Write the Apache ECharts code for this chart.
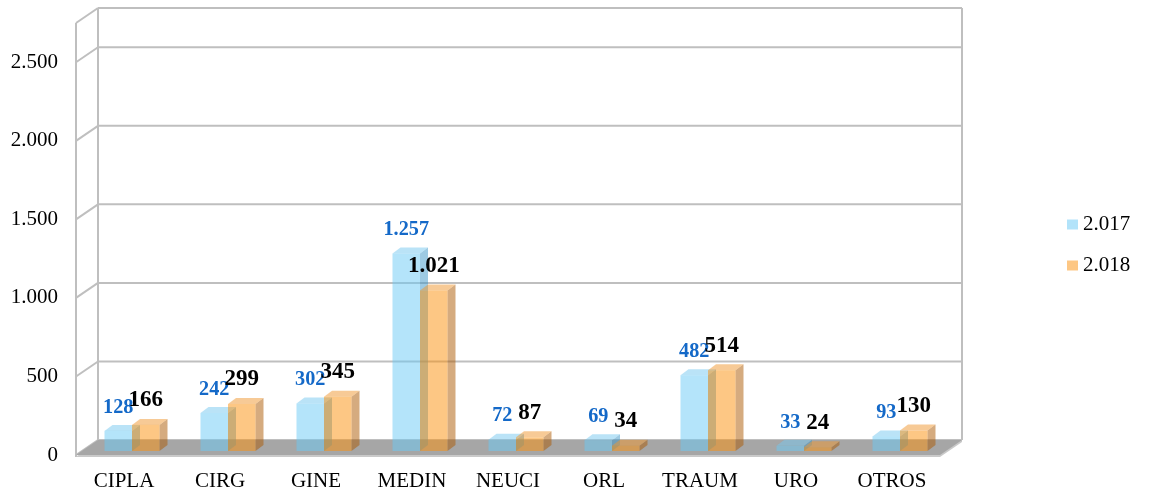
<!DOCTYPE html>
<html>
<head>
<meta charset="utf-8">
<script src="https://cdn.jsdelivr.net/npm/echarts@6/dist/echarts.min.js"></script>
<style>
html,body{margin:0;padding:0;background:#fff;}
#chart{width:1149px;height:493px;}
</style>
</head>
<body>
<div id="chart"></div>
<script>
const categories = ['CIPLA','CIRG','GINE','MEDIN','NEUCI','ORL','TRAUM','URO','OTROS'];
const values2017 = [128, 242, 302, 1257, 72, 69, 482, 33, 93];
const values2018 = [166, 299, 345, 1021, 87, 34, 514, 24, 130];
const seriesNames = ['2.017', '2.018'];
const yTicks = [0, 500, 1000, 1500, 2000, 2500];
const yMax = 2750;

const FONT = '"Liberation Serif", "Times New Roman", serif';
const WX = 22, WY = -15;      // wall depth
const FX = 8, FY = -4;        // bar front offset
const DX = 8, DY = -6;        // bar depth
const BAR_FRAC = 27.5 / 96;

const fmt = v => String(v).replace(/\B(?=(\d{3})+(?!\d))/g, '.');

const barColors = [
  {front: 'rgba(105,201,245,0.5)', top: 'rgba(118,200,240,0.5)', side: 'rgba(60,150,200,0.5)'},
  {front: 'rgba(251,143,9,0.5)', top: 'rgba(240,150,45,0.5)', side: 'rgba(172,88,0,0.5)'}
];
const swatch = ['#b2e3fa', '#fdc784'];
const labelColors = ['#1469c8', '#000000'];
const labelSizes = [22, 23];
const labelScaleX = [0.92, 1];

function barGeom(k, api) {
  const i = api.value(0), v = api.value(1);
  const base = api.coord([i, 0]);
  const top = api.coord([i, v]);
  const band = api.size([1, 0])[0];
  const w = band * BAR_FRAC;
  const x0 = base[0] + (k === 0 ? -w : 0) + FX;
  return {x0, w, yb: base[1] + FY, yt: top[1] + FY, v};
}

function barRender(k) {
  return function (params, api) {
    const g = barGeom(k, api), c = barColors[k];
    const {x0, w, yb, yt} = g;
    return {type: 'group', children: [
      {type: 'polygon', shape: {points: [[x0 + w, yt], [x0 + w + DX, yt + DY], [x0 + w + DX, yb + DY], [x0 + w, yb]]}, style: {fill: c.side}},
      {type: 'polygon', shape: {points: [[x0, yt], [x0 + w, yt], [x0 + w + DX, yt + DY], [x0 + DX, yt + DY]]}, style: {fill: c.top}},
      {type: 'rect', shape: {x: x0, y: yt, width: w, height: yb - yt}, style: {fill: c.front}}
    ]};
  };
}

function labelRender(k) {
  return function (params, api) {
    const g = barGeom(k, api);
    return {type: 'text', x: g.x0 + g.w / 2, y: g.yt - 13, scaleX: labelScaleX[k],
      style: {text: fmt(g.v), fill: labelColors[k], font: 'bold ' + labelSizes[k] + 'px ' + FONT, align: 'center', verticalAlign: 'bottom'}};
  };
}

function wallRender(params, api) {
  const cs = params.coordSys;
  const xL = cs.x, xR = cs.x + cs.width;
  const y0 = api.coord([0, 0])[1];
  const yT = api.coord([0, yMax])[1];
  const lineStyle = {stroke: '#bfbfbf', lineWidth: 2, fill: null};
  const ch = [];
  const lvls = yTicks.concat([yMax]);
  lvls.forEach(v => {
    const yf = api.coord([0, v])[1];
    ch.push({type: 'line', shape: {x1: xL + WX, y1: yf + WY, x2: xR + WX, y2: yf + WY}, style: lineStyle});
    ch.push({type: 'line', shape: {x1: xL, y1: yf, x2: xL + WX, y2: yf + WY}, style: lineStyle});
  });
  ch.push({type: 'line', shape: {x1: xL, y1: yT, x2: xL, y2: y0 + 2}, style: lineStyle});
  ch.push({type: 'line', shape: {x1: xL + WX, y1: yT + WY, x2: xL + WX, y2: y0 + WY}, style: lineStyle});
  ch.push({type: 'line', shape: {x1: xR + WX, y1: yT + WY, x2: xR + WX, y2: y0 + WY}, style: lineStyle});
  ch.push({type: 'polygon', shape: {points: [[xL, y0 + 2], [xR, y0 + 2], [xR + WX, y0 + WY + 2], [xR + WX, y0 + WY], [xL + WX, y0 + WY]]}, style: {fill: '#c9c9c9'}});
  ch.push({type: 'polygon', shape: {points: [[xL, y0], [xR, y0], [xR + WX, y0 + WY], [xL + WX, y0 + WY]]}, style: {fill: '#a6a6a6'}});
  return {type: 'group', children: ch};
}

const chart = echarts.init(document.getElementById('chart'), null, {renderer: 'canvas'});
const toData = arr => arr.map((v, i) => [i, v]);

chart.setOption({
  animation: false,
  backgroundColor: '#ffffff',
  grid: {left: 76, right: 209, top: 23, bottom: 38, containLabel: false},
  legend: {
    orient: 'vertical', left: 1062, top: 209,
    itemWidth: 11, itemHeight: 10, itemGap: 20,
    icon: 'rect',
    textStyle: {fontFamily: FONT, fontSize: 21, color: '#000'},
    data: seriesNames.map((n, k) => ({name: n, itemStyle: {color: swatch[k]}}))
  },
  xAxis: {
    type: 'category', data: categories,
    axisLine: {show: false}, axisTick: {show: false}, splitLine: {show: false},
    axisLabel: {fontFamily: FONT, fontSize: 21, color: '#000', margin: 16, interval: 0}
  },
  yAxis: {
    type: 'value', min: 0, max: yMax, interval: 500,
    axisLine: {show: false}, axisTick: {show: false}, splitLine: {show: false},
    axisLabel: {fontFamily: FONT, fontSize: 21, color: '#000', margin: 18, showMaxLabel: false, formatter: v => fmt(v)}
  },
  series: [
    {type: 'custom', name: '_walls', silent: true, clip: false, z: 1, data: [[0, 0]], renderItem: wallRender},
    {type: 'custom', name: seriesNames[0], clip: false, z: 2, itemStyle: {color: swatch[0]}, data: toData(values2017), renderItem: barRender(0)},
    {type: 'custom', name: seriesNames[1], clip: false, z: 3, itemStyle: {color: swatch[1]}, data: toData(values2018), renderItem: barRender(1)},
    {type: 'custom', name: seriesNames[0], clip: false, z: 4, silent: true, itemStyle: {color: swatch[0]}, data: toData(values2017), renderItem: labelRender(0)},
    {type: 'custom', name: seriesNames[1], clip: false, z: 5, silent: true, itemStyle: {color: swatch[1]}, data: toData(values2018), renderItem: labelRender(1)}
  ]
});
</script>
</body>
</html>
